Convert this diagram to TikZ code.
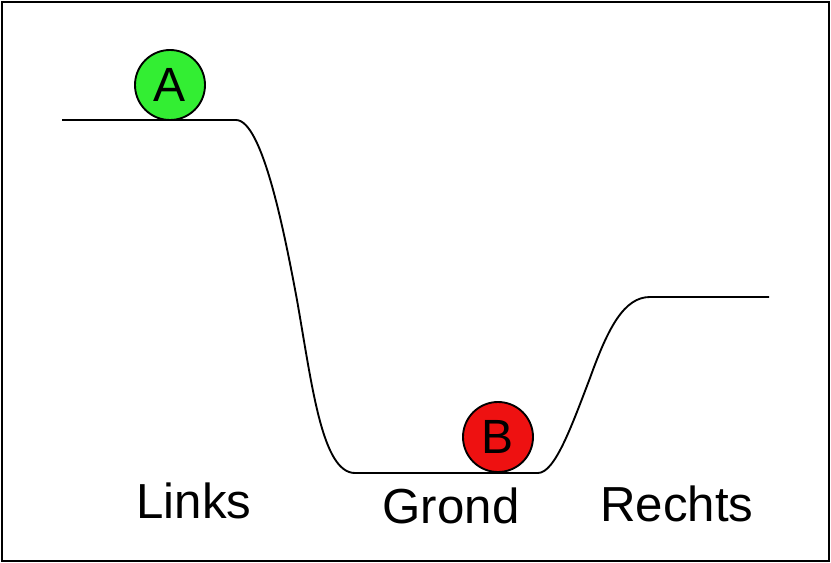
\documentclass[tikz,border=0pt]{standalone}
\usepackage{fontspec}
\setmainfont{Liberation Sans}
\tikzset{
	ball/.style={circle,draw=black,line width=1.6pt,minimum size=2.1cm,inner sep=0pt,font=\fontsize{41}{44}\selectfont},
	label/.style={anchor=base,font=\fontsize{42}{48}\selectfont}
}
\begin{document}
\begin{tikzpicture}[x=0.03cm,y=-0.03cm]
	\useasboundingbox (0,0) rectangle (831,563);
	\draw[line width=2.2pt] (2,2) rectangle (829,561);
	% landscape
	\draw[line width=1.6pt] (62,120) -- (236,120)
		.. controls (262,120) and (284,230) .. (297,300)
		.. controls (312,385) and (322,473) .. (355,473) -- (538,473)
		.. controls (555,473) and (572,425) .. (590,378)
		.. controls (608,328) and (624,297) .. (650,297) -- (769,297);
	% balls
	\node[ball,fill={rgb,255:red,51;green,238;blue,51}] (A) at (170,85) {A};
	\node[ball,fill={rgb,255:red,238;green,17;blue,17}] (B) at (498,437) {B};
	% labels
	\node[label] (links) at (194,518) {Links};
	\node[label] (grond) at (451,523) {Grond};
	\node[label] (rechts) at (677,521) {Rechts};
\end{tikzpicture}
\end{document}
